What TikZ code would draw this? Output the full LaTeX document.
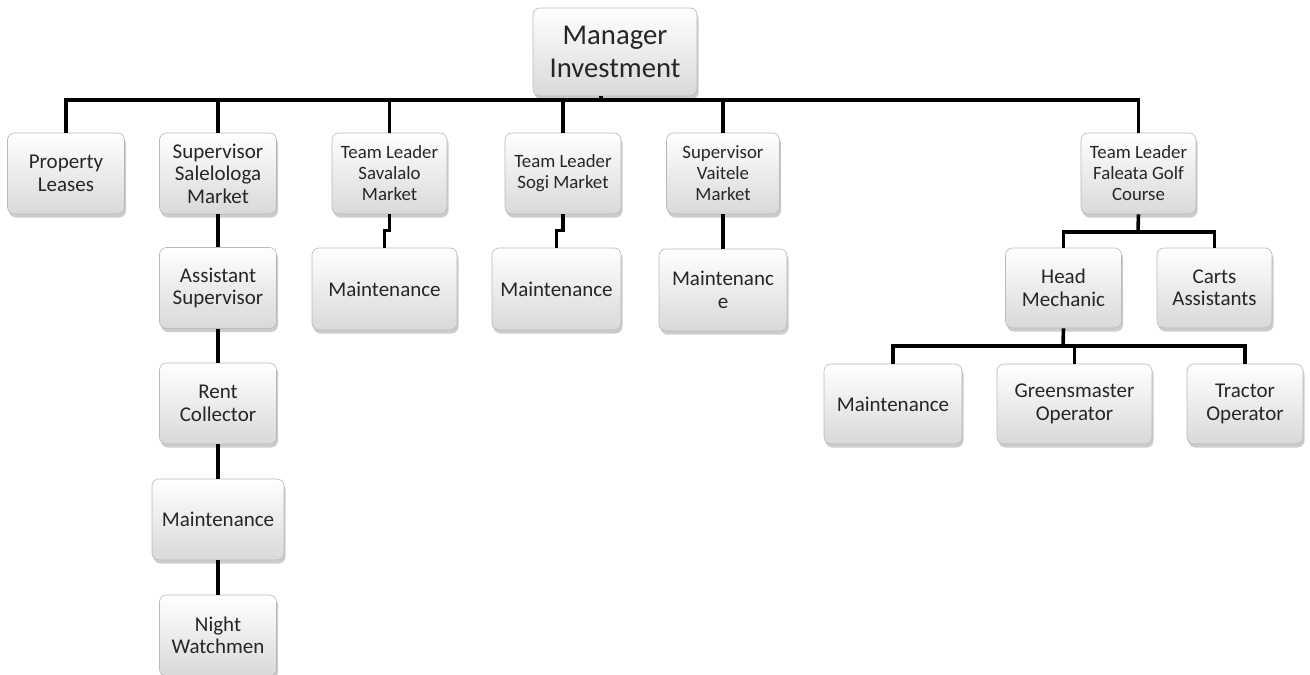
\documentclass[tikz,border=0pt]{standalone}
\usepackage{fontspec}
\setmainfont{Carlito}
\usetikzlibrary{shadows}
\begin{document}
\begin{tikzpicture}[x=1pt,y=-1pt,
  box/.style={draw=gray!55, line width=0.6pt, rounded corners=7pt,
    top color=white, bottom color=gray!30, align=center,
    inner sep=1pt, text=black!85,
    drop shadow={opacity=0.4, shadow xshift=1.5pt, shadow yshift=-3.5pt, fill=gray},
    font=\fontsize{21}{22.5}\selectfont},
  small/.style={font=\fontsize{18.8}{21}\selectfont},
  conn/.style={line width=3.6pt, black}]
\useasboundingbox (0,0) rectangle (1310,675);
% top
\node[box, minimum width=164pt, minimum height=88pt, font=\fontsize{28.7}{33}\selectfont] (mgr) at (615,52) {Manager\\Investment};
% level 1
\node[box, minimum width=117pt, minimum height=81pt] (pl) at (66,173.5) {Property\\Leases};
\node[box, minimum width=117pt, minimum height=81pt] (ss) at (218,173.5) {Supervisor\\Salelologa\\Market};
\node[box, small, minimum width=115pt, minimum height=81pt] (sv) at (389.5,173.5) {Team Leader\\Savalalo\\Market};
\node[box, small, minimum width=116pt, minimum height=81pt] (sg) at (563,173.5) {Team Leader\\Sogi Market};
\node[box, small, minimum width=113pt, minimum height=81pt] (vt) at (723,173.5) {Supervisor\\Vaitele\\Market};
\node[box, small, minimum width=115pt, minimum height=81pt] (fa) at (1138.5,173.5) {Team Leader\\Faleata Golf\\Course};
% Salelologa column
\node[box, minimum width=117pt, minimum height=81pt] (as) at (218,288) {Assistant\\Supervisor};
\node[box, minimum width=117pt, minimum height=81pt] (rc) at (218,403.5) {Rent\\Collector};
\node[box, minimum width=132pt, minimum height=81pt] (m1) at (218,519.5) {Maintenance};
\node[box, minimum width=117pt, minimum height=81pt] (nw) at (218,635.5) {Night\\Watchmen};
% maintenance under team leaders
\node[box, minimum width=145pt, minimum height=82pt] (m2) at (384.5,289) {Maintenance};
\node[box, minimum width=129pt, minimum height=82pt] (m3) at (556.5,289) {Maintenance};
\node[box, minimum width=128pt, minimum height=82pt] (m4) at (723,290) {Maintenanc\\e};
% golf course
\node[box, minimum width=116pt, minimum height=80pt] (hm) at (1063.5,288) {Head\\Mechanic};
\node[box, minimum width=115pt, minimum height=80pt] (ca) at (1214.5,288) {Carts\\Assistants};
\node[box, minimum width=138pt, minimum height=80pt] (m5) at (893,404) {Maintenance};
\node[box, minimum width=155pt, minimum height=80pt] (go) at (1074.5,404) {Greensmaster\\Operator};
\node[box, minimum width=116pt, minimum height=80pt] (tr) at (1245,404) {Tractor\\Operator};
% connectors
\coordinate (bus) at (601,100);
\coordinate (gb) at (1138,232);
\coordinate (hb) at (1063,346);
\draw[conn] ([xshift=-14pt]mgr.south) -- (bus);
\draw[conn] (pl.north) |- (bus) -| (fa.north);
\foreach \n in {ss,sv,sg,vt}{\draw[conn] (\n.north) -- (\n.north |- bus);}
\draw[conn] (ss.south) -- (as.north);
\draw[conn] (as.south) -- (rc.north);
\draw[conn] (rc.south) -- (m1.north);
\draw[conn] (m1.south) -- (nw.north);
\draw[conn] (sv.south) -- ++(0,16) -| (m2.north);
\draw[conn] (sg.south) -- ++(0,16) -| (m3.north);
\draw[conn] (vt.south) -- (m4.north);
\draw[conn] (fa.south) -- (gb);
\draw[conn] (hm.north) |- (gb) -| (ca.north);
\draw[conn] (hm.south) -- (hb);
\draw[conn] (m5.north) |- (hb) -| (tr.north);
\draw[conn] (go.north) -- (go.north |- hb);
\end{tikzpicture}
\end{document}
